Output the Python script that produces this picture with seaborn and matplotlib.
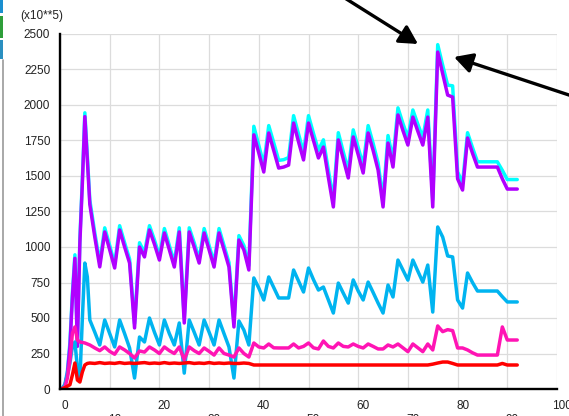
import matplotlib
matplotlib.use("Agg")
import matplotlib.pyplot as plt
import seaborn as sns
from matplotlib.transforms import ScaledTranslation
from matplotlib.patches import Rectangle
from matplotlib.lines import Line2D

# sample positions (half steps during the start-up phase, then whole steps)
steps = [0.5, 1, 1.5, 2, 2.5, 3, 3.5, 4, 4.5, 5, 5.5] + list(range(6, 93))

# values in units of 1e5
total = [8, 35, 130, 330, 680, 945, 330, 1060, 1480, 1945, 1640,
         1330, 1100, 890, 1135, 1010, 880, 1150, 1030, 915, 460,
         1030, 960, 1150, 1050, 935, 1130, 1010, 890, 1135, 495,
         1135, 1030, 915, 1130, 1010, 890, 1130, 1010, 890, 465,
         1080, 1010, 870, 1850, 1715, 1580, 1855, 1735, 1610, 1615,
         1630, 1925, 1795, 1665, 1925, 1800, 1680, 1755, 1540, 1335,
         1805, 1670, 1540, 1825, 1700, 1575, 1855, 1730, 1592, 1335,
         1785, 1615, 1980, 1870, 1770, 1965, 1865, 1770, 1965, 1335,
         2425, 2280, 2140, 2135, 1530, 1450, 1805, 1700, 1600, 1600,
         1600, 1600, 1600, 1540, 1475, 1475, 1475]

used = [5, 28, 112, 300, 650, 920, 300, 1030, 1450, 1918, 1613,
        1300, 1070, 860, 1106, 980, 852, 1120, 1000, 887, 430,
        1000, 930, 1120, 1020, 908, 1099, 980, 859, 1106, 465,
        1106, 1000, 887, 1099, 980, 859, 1099, 980, 859, 437,
        1049, 979, 838, 1790, 1662, 1528, 1803, 1680, 1556, 1563,
        1577, 1873, 1740, 1613, 1873, 1750, 1627, 1704, 1490, 1282,
        1754, 1620, 1486, 1775, 1650, 1521, 1803, 1680, 1542, 1282,
        1732, 1563, 1930, 1820, 1718, 1915, 1815, 1718, 1915, 1282,
        2373, 2220, 2070, 2056, 1480, 1401, 1768, 1660, 1563, 1563,
        1563, 1563, 1563, 1480, 1408, 1408, 1408]

young = [5, 28, 100, 183, 300, 331, 150, 63, 500, 887, 789,
         486, 400, 310, 486, 390, 296, 486, 390, 289, 77,
         366, 331, 500, 400, 310, 486, 390, 310, 465, 112,
         486, 400, 310, 486, 400, 310, 486, 390, 296, 77,
         479, 415, 310, 782, 711, 627, 789, 715, 641, 641,
         641, 838, 760, 683, 852, 770, 697, 718, 627, 535,
         746, 675, 605, 768, 690, 627, 753, 680, 605, 535,
         732, 648, 908, 838, 767, 908, 830, 753, 873, 542,
         1141, 1070, 937, 930, 627, 570, 817, 750, 690, 690,
         690, 690, 690, 650, 613, 613, 613]

survivor = [3, 14, 80, 204, 394, 437, 345, 331, 328, 324, 317,
            310, 289, 270, 296, 265, 245, 296, 275, 250, 218,
            268, 260, 296, 275, 250, 296, 270, 250, 296, 204,
            296, 270, 250, 289, 265, 239, 289, 250, 239, 225,
            289, 250, 225, 324, 296, 289, 317, 290, 289, 289,
            289, 317, 289, 300, 324, 290, 282, 338, 300, 289,
            324, 300, 296, 317, 300, 289, 317, 300, 282, 282,
            310, 296, 317, 290, 263, 317, 290, 263, 317, 275,
            444, 404, 418, 411, 289, 289, 275, 255, 239, 239,
            239, 239, 239, 437, 345, 345, 345]

old = [3, 10, 20, 30, 100, 183, 63, 49, 120, 169, 180,
       183, 180, 186, 180, 183, 180, 186, 180, 183, 180,
       183, 186, 180, 183, 180, 186, 180, 183, 180, 183,
       186, 180, 183, 180, 186, 180, 183, 180, 183, 180,
       180, 183, 180, 169, 169, 169, 169, 169, 169, 169,
       169, 169, 169, 169, 169, 169, 169, 169, 169, 169,
       169, 169, 169, 169, 169, 169, 169, 169, 169, 169,
       169, 169, 169, 169, 169, 169, 169, 169, 169, 175,
       183, 190, 190, 180, 169, 169, 169, 169, 169, 169,
       169, 169, 169, 180, 169, 169, 169]

series = [
    (total, "#00ffff"),
    (used, "#b000ff"),
    (young, "#00b4f0"),
    (survivor, "#ff14b4"),
    (old, "#ff0000"),
]

sns.set_style("white")
plt.rcParams["font.family"] = ["Liberation Sans", "DejaVu Sans"]

W, H = 569, 416
fig = plt.figure(figsize=(W / 100, H / 100), dpi=100)
ax = fig.add_axes([60 / W, 1 - 389 / H, 497 / W, 355 / H])

for vals, color in series:
    sns.lineplot(x=steps, y=vals, color=color, lw=2.5, ax=ax,
                 sort=False, estimator=None)

ax.set_xlim(0, 100)
ax.set_ylim(0, 2500)
ax.set_xlabel("")
ax.set_ylabel("")

ax.set_yticks(range(0, 2501, 250))
ax.set_yticklabels([str(v) for v in range(0, 2501, 250)], fontsize=8.5)
xt = list(range(0, 101, 10))
ax.set_xticks(xt)
ax.set_xticklabels([str(v) if v % 20 == 0 else "\n" + str(v) for v in xt],
                   fontsize=8.5)

ax.grid(True, color="#dcdcdc", lw=0.9)
ax.set_axisbelow(True)
ax.tick_params(axis="y", length=0, pad=7, colors="#222222")
ax.tick_params(axis="x", length=6, width=0.9, color="#d0d0d0",
               pad=2, labelcolor="#222222")
shift = ScaledTranslation(5 / 100, 0, fig.dpi_scale_trans)
for lab in ax.get_xticklabels():
    lab.set_transform(lab.get_transform() + shift)

for side in ("top", "right"):
    ax.spines[side].set_visible(False)
for side in ("left", "bottom"):
    ax.spines[side].set_color("black")
    ax.spines[side].set_linewidth(1.7)

fig.text(42 / W, 1 - 16 / H, "(x10**5)", ha="center", va="center",
         fontsize=8.5, color="#222222")

# pointer arrows
arrow = dict(arrowstyle="-|>,head_length=0.55,head_width=0.3",
             mutation_scale=20, lw=2.4, color="black",
             shrinkA=0, shrinkB=0)
ax.annotate("", xy=(418, H - 44), xycoords="figure pixels",
            xytext=(340, H + 5), textcoords="figure pixels",
            arrowprops=arrow, annotation_clip=False)
ax.annotate("", xy=(454, H - 57), xycoords="figure pixels",
            xytext=(575, H - 97), textcoords="figure pixels",
            arrowprops=arrow, annotation_clip=False)

# window edge on the left
for y0, h, c in [(0, 13, "#1a8fd0"), (16, 22, "#2e9e3a"), (40, 19, "#2a8fc0")]:
    fig.add_artist(Rectangle((0, (H - y0 - h) / H), 3 / W, h / H,
                             transform=fig.transFigure, color=c, lw=0))
fig.add_artist(Line2D([2.5 / W, 2.5 / W], [0, (H - 60) / H],
                      transform=fig.transFigure, color="#999999", lw=1.2))

fig.savefig("out.png", dpi=100)
